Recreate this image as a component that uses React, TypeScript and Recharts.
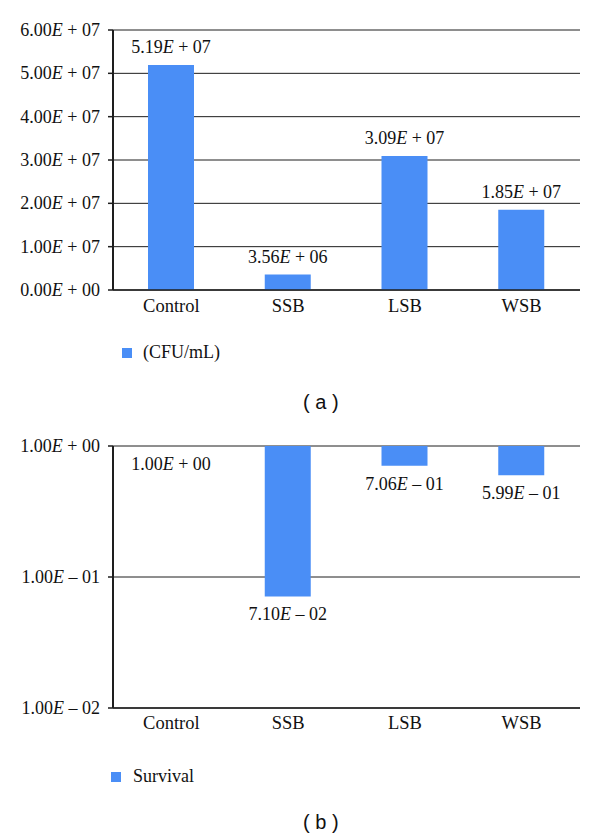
import React from 'react';
import { BarChart, Bar, XAxis, YAxis, CartesianGrid, Legend, LabelList, Cell } from 'recharts';

const categories = ['Control', 'SSB', 'LSB', 'WSB'];
const cfuValues = [5.19e7, 3.56e6, 3.09e7, 1.85e7];
const survivalValues = [1.0, 0.071, 0.706, 0.599];
const cfuTicks = [0, 1e7, 2e7, 3e7, 4e7, 5e7, 6e7];
const survivalTicks = [0.01, 0.1, 1];
const seriesNames = ['(CFU/mL)', 'Survival'];
const captions = ['( a )', '( b )'];

const dataA = categories.map((c, i) => ({ category: c, cfu: cfuValues[i] }));
const dataB = categories.map((c, i) => ({ category: c, survival: survivalValues[i] }));

const SERIF = '"Liberation Serif", "Times New Roman", serif';
const SANS = '"Liberation Sans", Arial, sans-serif';
const BLUE = '#4a8ef6';
const AXIS = '#1e1e1e';
const GRID = '#1e1e1e';

function sci(v: number): [string, string] {
  const s = Number(v).toExponential(2);
  const [m, e] = s.split('e');
  const sign = e[0] === '-' ? '–' : '+';
  const digits = e.replace(/[+-]/, '').padStart(2, '0');
  return [m, ` ${sign} ${digits}`];
}

const SciText = ({ x, y, value, anchor }: any) => {
  const [m, e] = sci(value);
  return (
    <text x={x} y={y} textAnchor={anchor} fontFamily={SERIF} fontSize={18} fill="#111">
      {m}
      <tspan fontStyle="italic">E</tspan>
      {e}
    </text>
  );
};

const YTick = (props: any) => {
  const { x, y, payload } = props;
  return <SciText x={x} y={y + 6} value={payload.value} anchor="end" />;
};

const makeXTick = (dy: number) => (props: any) => {
  const { x, y, payload } = props;
  return (
    <text x={x} y={y + dy} textAnchor="middle" fontFamily={SERIF} fontSize={18.5} fill="#111">
      {payload.value}
    </text>
  );
};

const getBox = (props: any) => {
  const vb = props.viewBox ?? props;
  return { x: Number(vb.x), y: Number(vb.y), width: Number(vb.width), height: Number(vb.height) };
};

const AboveLabel = (props: any) => {
  const { x, y, width, height } = getBox(props);
  const top = Math.min(y, y + height);
  return <SciText x={x + width / 2} y={top - 12} value={props.value} anchor="middle" />;
};

const BelowLabel = (props: any) => {
  const { x, y, width, height } = getBox(props);
  const bottom = Math.max(y, y + height);
  return <SciText x={x + width / 2} y={bottom + 24} value={props.value} anchor="middle" />;
};

const makeLegend = (gap: number) => (props: any) => {
  const items = props.payload || [];
  return (
    <div style={{ display: 'flex', alignItems: 'center', fontFamily: SERIF, fontSize: 18, color: '#111', lineHeight: '21px' }}>
      {items.map((it: any, i: number) => (
        <div key={i} style={{ display: 'flex', alignItems: 'center' }}>
          <span style={{ display: 'inline-block', width: 10, height: 10, background: BLUE, marginRight: gap }} />
          <span>{it.value}</span>
        </div>
      ))}
    </div>
  );
};

const XTickA = makeXTick(22);
const XTickB = makeXTick(21);
const LegendA = makeLegend(11);
const LegendB = makeLegend(12);

export default function App() {
  return (
    <div style={{ position: 'absolute', left: 0, top: 0, width: 600, height: 839, background: '#fff', fontFamily: SERIF }}>
      <div style={{ position: 'absolute', left: 0, top: 0 }}>
        <BarChart width={600} height={420} data={dataA} margin={{ top: 30, right: 20, left: 0, bottom: 100 }}>
          <CartesianGrid vertical={false} stroke={GRID} strokeWidth={1} />
          <XAxis
            dataKey="category"
            tickLine={false}
            tickSize={0}
            tickMargin={0}
            interval={0}
            height={30}
            axisLine={{ stroke: AXIS, strokeWidth: 1.5 }}
            tick={<XTickA />}
          />
          <YAxis
            type="number"
            width={113}
            domain={[0, 6e7]}
            ticks={cfuTicks}
            interval={0}
            tickSize={5}
            tickMargin={8}
            tickLine={{ stroke: AXIS, strokeWidth: 1.5 }}
            axisLine={{ stroke: AXIS, strokeWidth: 2 }}
            tick={<YTick />}
          />
          <Bar dataKey="cfu" name={seriesNames[0]} fill={BLUE} barSize={46} isAnimationActive={false}>
            <LabelList dataKey="cfu" content={AboveLabel} />
          </Bar>
          <Legend
            layout="horizontal"
            verticalAlign="middle"
            align="center"
            content={LegendA}
            wrapperStyle={{ left: 122, top: 342, width: 200 }}
          />
        </BarChart>
      </div>
      <div style={{ position: 'absolute', left: 303, top: 390, fontFamily: SANS, fontSize: 20, lineHeight: '24px', color: '#111', whiteSpace: 'pre' }}>
        {captions[0]}
      </div>
      <div style={{ position: 'absolute', left: 0, top: 420 }}>
        <BarChart width={600} height={419} data={dataB} margin={{ top: 26, right: 20, left: 0, bottom: 101 }}>
          <CartesianGrid vertical={false} stroke={GRID} strokeWidth={1} />
          <XAxis
            dataKey="category"
            tickLine={false}
            tickSize={0}
            tickMargin={0}
            interval={0}
            height={30}
            axisLine={{ stroke: AXIS, strokeWidth: 1.5 }}
            tick={<XTickB />}
          />
          <YAxis
            type="number"
            scale="log"
            width={113}
            domain={[0.01, 1]}
            allowDataOverflow
            ticks={survivalTicks}
            interval={0}
            tickSize={5}
            tickMargin={8}
            tickLine={{ stroke: AXIS, strokeWidth: 1.5 }}
            axisLine={{ stroke: AXIS, strokeWidth: 2 }}
            tick={<YTick />}
          />
          <Bar
            dataKey={(d: any) => [d.survival, 1]}
            name={seriesNames[1]}
            fill={BLUE}
            barSize={46}
            minPointSize={1}
            isAnimationActive={false}
          >
            {dataB.map((d, i) => (
              <Cell key={i} fill={BLUE} fillOpacity={d.survival >= 1 ? 0 : 1} />
            ))}
            <LabelList dataKey="survival" content={BelowLabel} />
          </Bar>
          <Legend
            layout="horizontal"
            verticalAlign="middle"
            align="center"
            content={LegendB}
            wrapperStyle={{ left: 111, top: 346, width: 200 }}
          />
        </BarChart>
      </div>
      <div style={{ position: 'absolute', left: 303, top: 810, fontFamily: SANS, fontSize: 20, lineHeight: '24px', color: '#111', whiteSpace: 'pre' }}>
        {captions[1]}
      </div>
    </div>
  );
}
